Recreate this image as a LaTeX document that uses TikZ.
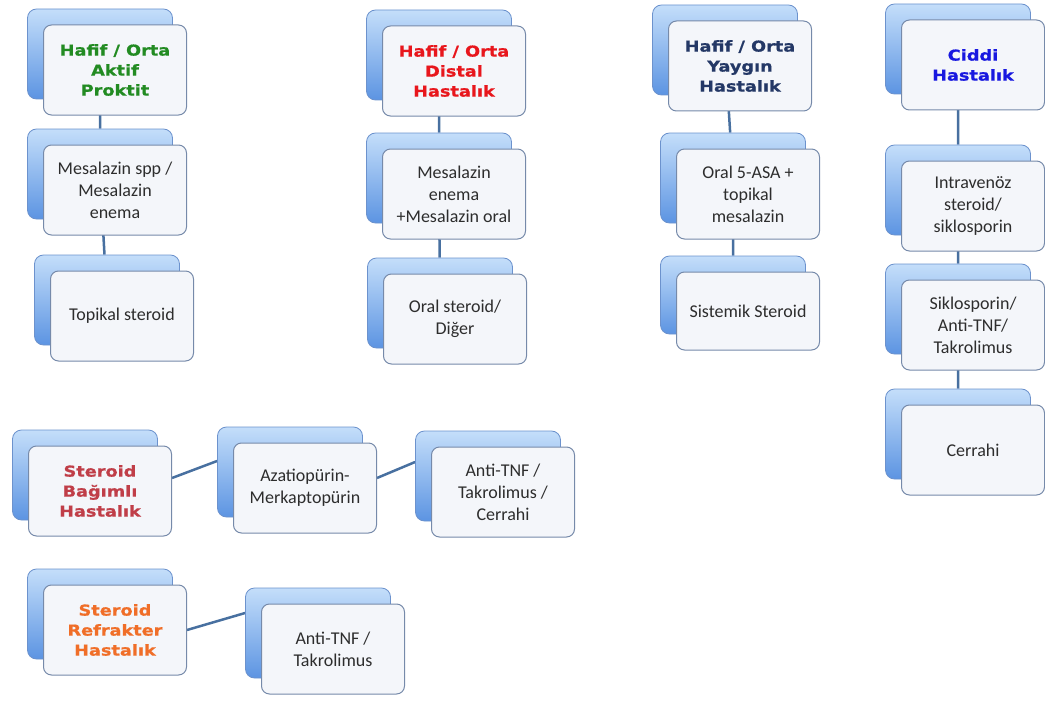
\documentclass[tikz,border=0pt]{standalone}
\usepackage{fontspec}
\setmainfont{Carlito}
\newfontfamily\headfont{DejaVu Sans}[FakeStretch=1.18, BoldFeatures={FakeBold=0.8}]
\usetikzlibrary{backgrounds}
\definecolor{boxtop}{RGB}{196,222,250}
\definecolor{boxbottom}{RGB}{92,148,226}
\definecolor{boxedge}{RGB}{108,146,205}
\definecolor{frontfill}{RGB}{244,246,250}
\definecolor{frontedge}{RGB}{118,138,170}
\definecolor{bodytext}{RGB}{45,45,45}
\definecolor{linkblue}{RGB}{72,112,160}
\definecolor{headgreen}{RGB}{34,139,34}
\definecolor{headred}{RGB}{232,22,28}
\definecolor{headnavy}{RGB}{36,56,102}
\definecolor{headblue}{RGB}{24,24,224}
\definecolor{headrose}{RGB}{192,62,72}
\definecolor{headorange}{RGB}{240,110,40}

\begin{document}
\begin{tikzpicture}[x=1pt,y=-1pt,
    back node/.style={draw=boxedge, line width=0.8pt, rounded corners=9pt,
      top color=boxtop, bottom color=boxbottom,
      minimum width=145pt, minimum height=90pt},
    front node/.style={draw=frontedge, line width=1pt, fill=frontfill,
      rounded corners=8pt, minimum width=143pt, minimum height=90pt,
      align=center, text=bodytext, inner sep=2pt,
      font=\fontsize{18}{22}\selectfont},
    head node/.style={front node, text=#1,
      font=\headfont\bfseries\fontsize{15}{20}\selectfont},
    link/.style={draw=linkblue, line width=2.5pt}]
  \useasboundingbox (0,0) rectangle (1045,701);

  % back boxes
  \node[back node] (a1s) at (100,54) {};
  \node[back node] (a2s) at (100,174) {};
  \node[back node] (a3s) at (107,300) {};
  \node[back node] (b1s) at (439,55) {};
  \node[back node] (b2s) at (439,178) {};
  \node[back node] (b3s) at (440,303) {};
  \node[back node] (c1s) at (725,50) {};
  \node[back node] (c2s) at (733,178) {};
  \node[back node, minimum height=78pt] (c3s) at (733,295) {};
  \node[back node] (d1s) at (958,49) {};
  \node[back node] (d2s) at (958,190) {};
  \node[back node] (d3s) at (958,309) {};
  \node[back node] (d4s) at (958,434) {};
  \node[back node] (e1s) at (85,475) {};
  \node[back node] (e2s) at (290,472) {};
  \node[back node] (e3s) at (488,476) {};
  \node[back node] (f1s) at (100,614) {};
  \node[back node] (f2s) at (318,633) {};

  % front boxes
  \node[head node=headgreen] (a1) at ([shift={(15,16)}]a1s) {Hafif / Orta\\Aktif\\Proktit};
  \node[front node] (a2) at ([shift={(15,16)}]a2s) {Mesalazin spp /\\Mesalazin\\enema};
  \node[front node] (a3) at ([shift={(15,16)}]a3s) {Topikal steroid};
  \node[head node=headred] (b1) at ([shift={(15,16)}]b1s) {Hafif / Orta\\Distal\\Hastalık};
  \node[front node] (b2) at ([shift={(15,16)}]b2s) {Mesalazin\\enema\\+Mesalazin oral};
  \node[front node] (b3) at ([shift={(15,16)}]b3s) {Oral steroid/\\Diğer};
  \node[head node=headnavy] (c1) at ([shift={(15,16)}]c1s) {Hafif / Orta\\Yaygın\\Hastalık};
  \node[front node] (c2) at ([shift={(15,16)}]c2s) {Oral 5-ASA +\\topikal\\mesalazin};
  \node[front node, minimum height=78pt] (c3) at ([shift={(15,16)}]c3s) {Sistemik Steroid};
  \node[head node=headblue] (d1) at ([shift={(15,16)}]d1s) {Ciddi\\Hastalık};
  \node[front node] (d2) at ([shift={(15,16)}]d2s) {Intravenöz\\steroid/\\siklosporin};
  \node[front node] (d3) at ([shift={(15,16)}]d3s) {Siklosporin/\\Anti-TNF/\\Takrolimus};
  \node[front node] (d4) at ([shift={(15,16)}]d4s) {Cerrahi};
  \node[head node=headrose] (e1) at ([shift={(15,16)}]e1s) {Steroid\\Bağımlı\\Hastalık};
  \node[front node] (e2) at ([shift={(15,16)}]e2s) {Azatiopürin-\\Merkaptopürin};
  \node[front node] (e3) at ([shift={(15,16)}]e3s) {Anti-TNF /\\Takrolimus /\\Cerrahi};
  \node[head node=headorange] (f1) at ([shift={(15,16)}]f1s) {Steroid\\Refrakter\\Hastalık};
  \node[front node] (f2) at ([shift={(15,16)}]f2s) {Anti-TNF /\\Takrolimus};

  % connectors behind the boxes
  \begin{scope}[on background layer]
    \path[link]
    (a1s) -- (a2s)
    (a2s) -- (a3s)
    (b1s) -- (b2s)
    (b2s) -- (b3s)
    (c1s) -- (c2s)
    (c2s) -- (c3s)
    (d1s) -- (d2s)
    (d2s) -- (d3s)
    (d3s) -- (d4s)
    ([yshift=13pt]e1.east) -- ([yshift=11pt]e2s.west)
    ([yshift=10pt]e2.east) -- ([yshift=14pt]e3s.west)
    (f1.east) -- ([yshift=20pt]f2s.west);
  \end{scope}
\end{tikzpicture}
\end{document}
